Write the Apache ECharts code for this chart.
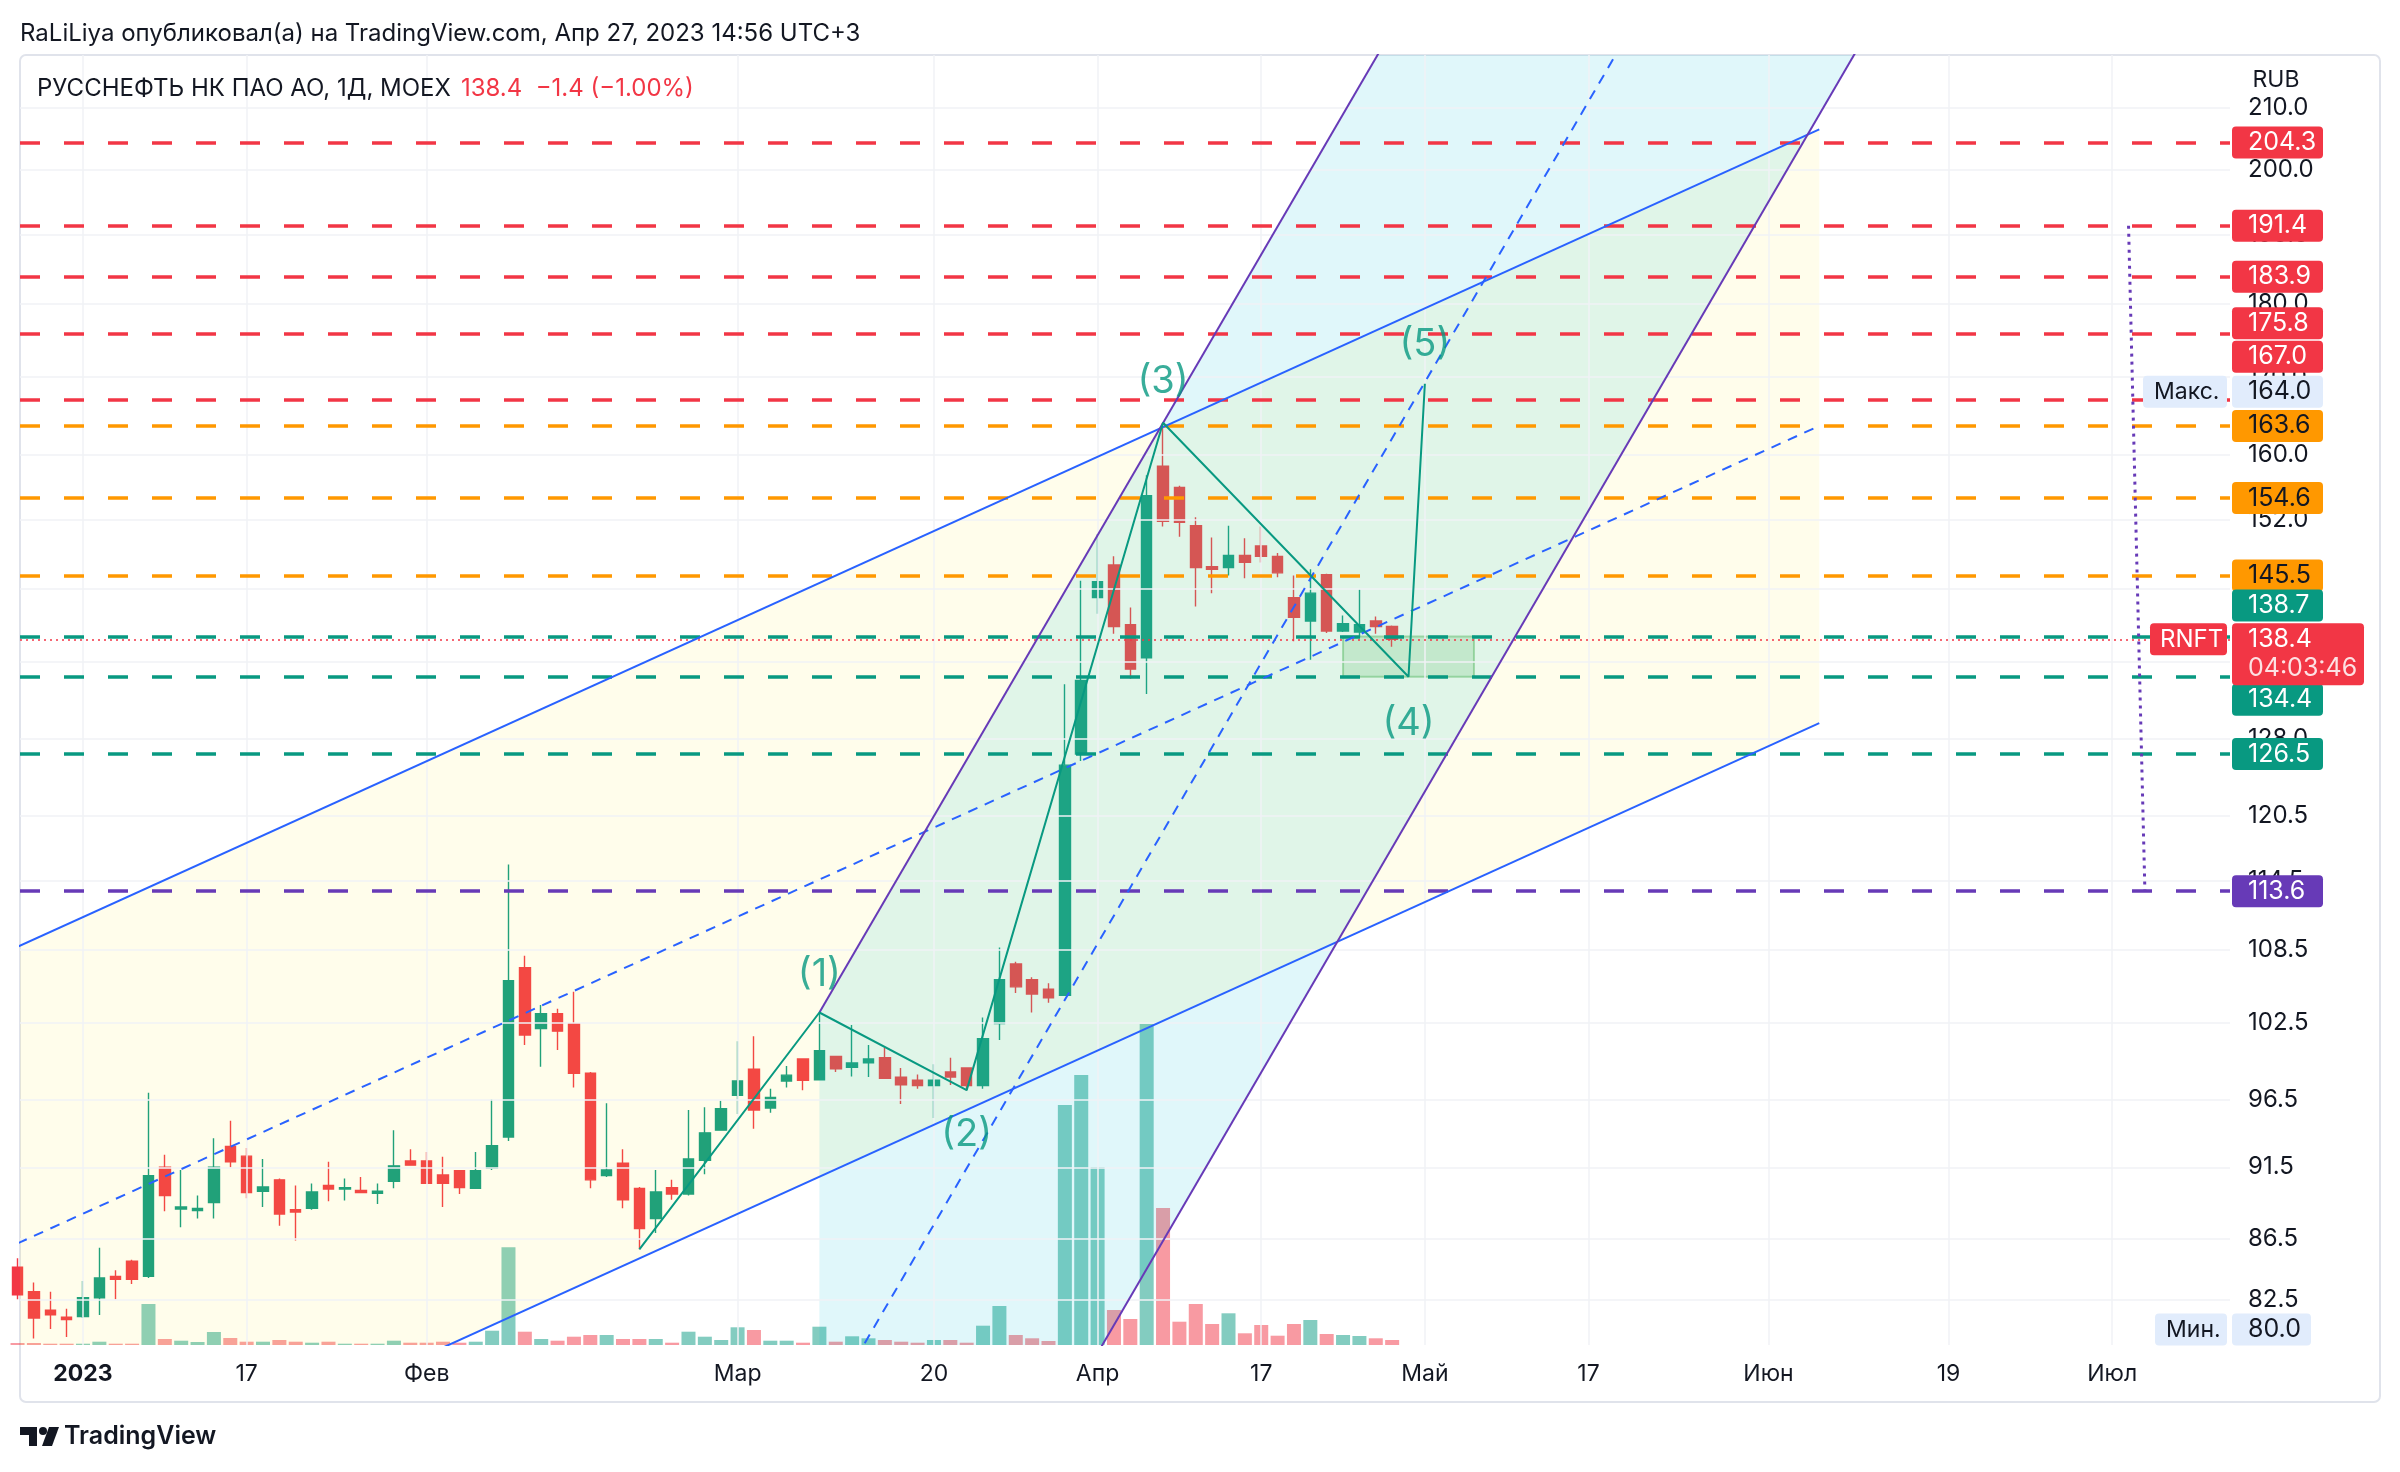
<!DOCTYPE html>
<html>
<head>
<meta charset="utf-8">
<script src="https://cdn.jsdelivr.net/npm/echarts@6/dist/echarts.min.js"></script>
<style>
  html, body { margin: 0; padding: 0; background: #fff; }
  #chart { width: 2400px; height: 1472px; }
</style>
</head>
<body>
<div id="chart"></div>
<script>
// RNFT daily, Dec 27 2022 .. Apr 27 2023 (index 0 = Jan 3)
const dates = ['27.12','28.12','29.12','30.12',
  '03.01','04.01','05.01','06.01','09.01','10.01','11.01','12.01','13.01','16.01','17.01','18.01','19.01','20.01','23.01','24.01','25.01','26.01','27.01','30.01','31.01',
  '01.02','02.02','03.02','06.02','07.02','08.02','09.02','10.02','13.02','14.02','15.02','16.02','17.02','20.02','21.02','22.02','24.02','27.02','28.02',
  '01.03','02.03','03.03','06.03','07.03','09.03','10.03','13.03','14.03','15.03','16.03','17.03','20.03','21.03','22.03','23.03','24.03','27.03','28.03','29.03','30.03','31.03',
  '03.04','04.04','05.04','06.04','07.04','10.04','11.04','12.04','13.04','14.04','17.04','18.04','19.04','20.04','21.04','24.04','25.04','26.04','27.04'];
const FIRST_INDEX = -4;

const opens = [84.6, 83.0, 81.8, 81.35,
  81.4, 82.6, 84.0, 85.0, 84.0, 91.5, 88.55, 88.45, 89.0, 93.0, 92.3, 89.8, 90.6, 88.5, 88.6, 90.2, 89.95, 89.85, 89.65, 90.5, 91.95,
  91.95, 90.95, 91.25, 90.0, 91.45, 93.7, 107.0, 102.0, 103.2, 102.4, 98.5, 90.9, 91.8, 90.0, 87.9, 90.05, 89.6, 92.0, 94.2,
  96.8, 98.8, 95.85, 97.9, 99.6, 98.0, 99.8, 98.96, 99.3, 99.7, 98.2, 97.97, 97.55, 98.6, 98.9, 97.55, 102.4, 107.3, 106.0, 105.2, 104.7, 126.5,
  143.0, 146.7, 140.0, 136.4, 158.5, 155.9, 151.3, 146.5, 146.4, 147.8, 148.9, 147.7, 143.0, 140.4, 145.6, 139.3, 139.2, 140.4, 139.8];
const closes = [82.8, 81.3, 81.5, 81.2,
  82.6, 83.9, 83.8, 83.8, 90.9, 89.5, 88.7, 88.6, 91.5, 91.9, 89.7, 90.1, 88.2, 88.35, 89.75, 89.95, 90.05, 89.7, 89.8, 91.6, 91.65,
  90.35, 90.35, 90.05, 91.25, 93.05, 105.9, 101.5, 103.2, 101.8, 98.5, 90.6, 91.3, 89.2, 87.2, 89.75, 89.6, 92.1, 94.0, 95.8,
  97.9, 95.7, 96.65, 98.35, 97.95, 100.25, 98.85, 99.3, 99.6, 98.1, 97.6, 97.55, 97.97, 98.2, 97.55, 101.2, 106.0, 105.4, 104.8, 104.5, 125.4, 134.0,
  144.8, 139.8, 135.2, 154.9, 151.8, 151.7, 146.4, 146.2, 147.8, 147.0, 147.7, 145.8, 140.8, 143.5, 139.3, 140.1, 140.0, 139.8, 138.4];
const lows = [82.5, 80.0, 80.6, 80.1,
  81.3, 81.5, 82.5, 83.5, 83.9, 88.4, 87.3, 87.9, 87.9, 91.5, 89.3, 88.7, 87.4, 86.4, 88.5, 89.1, 89.15, 89.7, 88.9, 90.0, 91.6,
  90.3, 88.7, 89.6, 90.0, 91.3, 93.4, 100.7, 99.0, 100.3, 97.4, 90.0, 90.8, 88.6, 85.8, 86.9, 89.2, 89.5, 91.0, 94.2,
  95.4, 94.3, 95.5, 97.4, 97.2, 97.95, 98.6, 98.25, 98.2, 98.05, 96.15, 97.3, 95.1, 97.6, 97.2, 97.3, 101.1, 104.9, 103.3, 104.1, 104.7, 125.8,
  141.2, 139.0, 134.2, 132.6, 151.2, 150.0, 142.0, 143.5, 145.5, 145.2, 147.0, 145.3, 138.2, 136.2, 139.1, 139.2, 138.6, 139.0, 137.6];
const highs = [85.2, 83.6, 83.0, 81.9,
  83.7, 85.9, 84.4, 85.1, 97.0, 92.4, 91.3, 89.5, 93.6, 94.9, 92.9, 92.1, 90.7, 90.2, 90.35, 91.9, 90.7, 90.8, 90.35, 94.2, 92.8,
  92.6, 92.25, 91.3, 92.6, 96.5, 116.0, 108.0, 103.9, 103.6, 105.0, 98.6, 96.2, 92.8, 90.1, 91.3, 90.6, 95.7, 95.9, 96.4,
  101.0, 101.4, 97.3, 99.05, 99.6, 103.3, 99.85, 102.3, 100.7, 100.5, 98.9, 98.4, 99.2, 99.7, 98.9, 102.9, 108.7, 107.5, 106.2, 105.7, 133.6, 144.9,
  150.3, 147.7, 141.9, 157.4, 164.0, 156.1, 152.3, 149.9, 151.3, 149.8, 151.2, 148.1, 145.5, 146.2, 145.7, 141.0, 143.9, 140.9, 139.9];
const volumes = [0.2, 0.2, 0.13, 0.13,
  0.13, 0.33, 0.13, 0.13, 4.1, 0.6, 0.43, 0.3, 1.3, 0.7, 0.33, 0.33, 0.5, 0.33, 0.23, 0.33, 0.13, 0.13, 0.13, 0.43, 0.23,
  0.23, 0.33, 0.23, 0.33, 1.43, 9.77, 1.33, 0.6, 0.43, 0.83, 1.0, 1.0, 0.6, 0.6, 0.6, 0.23, 1.33, 0.83, 0.5,
  1.77, 1.5, 0.43, 0.43, 0.23, 1.83, 0.33, 0.87, 0.67, 0.5, 0.33, 0.23, 0.5, 0.5, 0.23, 1.93, 3.9, 1.0, 0.67, 0.4, 24.0, 27.0,
  17.8, 3.5, 2.6, 32.1, 13.7, 2.33, 4.1, 2.1, 3.17, 1.17, 2.0, 0.93, 2.1, 2.5, 1.1, 1.0, 0.9, 0.67, 0.5];

// axis ticks
const yTicks = [82.5, 86.5, 91.5, 96.5, 102.5, 108.5, 114.5, 120.5, 128.0, 136.0, 144.0, 152.0, 160.0, 170.0, 180.0, 190.0, 200.0, 210.0];
const xLabelIdx = [0, 10, 21, 40, 52, 62, 72, 82, 92, 103, 114, 124];
const xLabelText = ['2023', '17', 'Фев', 'Мар', '20', 'Апр', '17', 'Май', '17', 'Июн', '19', 'Июл'];

// horizontal levels
const levelPrices = [204.3, 191.4, 183.9, 175.8, 167.0, 163.6, 154.6, 145.5, 138.7, 134.4, 126.5, 113.6];
const levelKinds  = ['r', 'r', 'r', 'r', 'r', 'o', 'o', 'o', 'g', 'g', 'g', 'p'];

// drawings: [bar index, price]
const chanUpper = [[-6, 107.5], [106.1, 206.4]];
const chanLower = [[-6, 67.5], [106.1, 129.6]];
const chanMid   = [[-6, 85.2], [106.1, 163.6]];
const steepLeft  = [[45, 103.3], [115, 482]];
const steepRight = [[45, 54.4], [115, 254]];
const steepMid   = [[45, 75.0], [115, 350]];
const wavePoints = [[34, 85.8], [45, 103.3], [54, 97.2], [66, 164.0], [81, 134.4], [82, 169.1]];
const waveNames  = ['(1)', '(2)', '(3)', '(4)', '(5)'];
const waveBox    = [[77, 134.4], [85, 138.7]];
const rangeLine  = [[125, 191.4], [126, 113.6]];

const UP = '#089981', DOWN = '#f23645';
const LEVEL_COLORS = { r: '#f23645', o: '#ff9800', g: '#089981', p: '#673ab7' };
const FONT = 'Inter, "Noto Sans", sans-serif';
const TEXT = '#131722';
const X_MIN = -3.85, X_MAX = 131.2, Y_MIN = 79.6, Y_MAX = 218.8;

const idx = dates.map((d, k) => k + FIRST_INDEX);

function seg(points, color, width, type, z) {
  return {
    type: 'line', xAxisIndex: 0, yAxisIndex: 0, data: points, symbol: 'none', silent: true, z: z || 6,
    lineStyle: { color: color, width: width, type: type || 'solid' }
  };
}

function fill(points, color) {
  return {
    type: 'custom', xAxisIndex: 0, yAxisIndex: 0, clip: true, silent: true, z: 4,
    data: [points[0]],
    renderItem: function (params, api) {
      return { type: 'polygon', shape: { points: points.map(p => api.coord(p)) }, style: { fill: color } };
    }
  };
}

// price tags right of the plot
function tags(list) {
  return {
    type: 'custom', xAxisIndex: 0, yAxisIndex: 0, clip: false, silent: true, z: 20,
    data: list.map(t => [X_MAX, t.price]),
    renderItem: function (params, api) {
      const t = list[params.dataIndex];
      const pt = api.coord([X_MAX, t.price]);
      const y = pt[1] + (t.shift || 0);
      const children = [];
      t.boxes.forEach(b => {
        children.push({ type: 'rect', shape: { x: pt[0] + b.x, y: y + (b.y || -16), width: b.w, height: b.h || 32, r: 4 }, style: { fill: b.bg } });
        b.lines.forEach(l => {
          children.push({ type: 'text', x: pt[0] + b.x + (b.tx || 16), y: y + (l.dy || 0),
            style: { text: l.text, fill: l.color || b.fg, fontSize: l.size || 25, fontFamily: FONT, verticalAlign: 'middle' } });
        });
      });
      return { type: 'group', children: children };
    }
  };
}

const levelTagShift = [0, 0, 0, -11, -43, 0, 0, 0, -31, 23, 0, 0];
const levelTags = levelPrices.map((v, k) => ({
  price: v, shift: levelTagShift[k],
  boxes: [{ x: 2, w: 91, bg: LEVEL_COLORS[levelKinds[k]], fg: levelKinds[k] === 'o' ? TEXT : '#ffffff', lines: [{ text: v.toFixed(1) }] }]
}));
const lastClose = closes[closes.length - 1];
const maxHigh = Math.max.apply(null, highs);
const minLow = Math.min.apply(null, lows);
const extraTags = [
  { price: maxHigh, shift: -31, boxes: [
    { x: -87, w: 84, bg: '#e1ecfc', fg: TEXT, tx: 11, lines: [{ text: 'Макс.', size: 23 }] },
    { x: 2, w: 91, bg: '#e1ecfc', fg: TEXT, lines: [{ text: maxHigh.toFixed(1) }] }] },
  { price: minLow, shift: -9, boxes: [
    { x: -75, w: 72, bg: '#e1ecfc', fg: TEXT, tx: 11, lines: [{ text: 'Мин.', size: 23 }] },
    { x: 2, w: 79, bg: '#e1ecfc', fg: TEXT, lines: [{ text: minLow.toFixed(1) }] }] },
  { price: lastClose, shift: 0, boxes: [
    { x: -80, y: -16, w: 77, h: 32, bg: DOWN, fg: '#ffffff', tx: 10, lines: [{ text: 'RNFT', size: 24 }] },
    { x: 2, y: -16, w: 132, h: 62, bg: DOWN, fg: '#ffffff', lines: [{ text: lastClose.toFixed(1) }, { text: '04:03:46', dy: 29, color: 'rgba(255,255,255,0.85)' }] }] }
];

const chart = echarts.init(document.getElementById('chart'));

const option = {
  animation: false,
  backgroundColor: '#ffffff',
  textStyle: { fontFamily: FONT },
  grid: [
    { left: 20, right: 170, top: 55, bottom: 127 },
    { left: 20, right: 170, bottom: 127, height: 340 }
  ],
  xAxis: [
    {
      type: 'value', gridIndex: 0, min: X_MIN, max: X_MAX,
      axisLine: { show: false }, axisTick: { show: false }, splitLine: { show: false },
      axisLabel: {
        customValues: xLabelIdx, color: TEXT, fontSize: 23, margin: 18, fontFamily: FONT,
        formatter: function (v) {
          const k = xLabelIdx.indexOf(Math.round(v));
          if (k < 0) return '';
          return k === 0 ? '{b|' + xLabelText[k] + '}' : xLabelText[k];
        },
        rich: { b: { fontWeight: 'bold', fontSize: 23, color: TEXT, fontFamily: FONT } }
      }
    },
    { type: 'value', gridIndex: 1, min: X_MIN, max: X_MAX, show: false }
  ],
  yAxis: [
    { type: 'log', gridIndex: 0, min: Y_MIN, max: Y_MAX, position: 'right',
      axisLine: { show: false }, axisTick: { show: false }, axisLabel: { show: false }, splitLine: { show: false } },
    { type: 'value', gridIndex: 1, min: 0, max: 34, show: false }
  ],
  graphic: [
    { type: 'rect', shape: { x: 20, y: 55, width: 2360, height: 1347, r: 6 }, style: { fill: 'none', stroke: '#e0e3eb', lineWidth: 2 }, z: -1 },
    { type: 'text', x: 20, y: 34, style: { text: 'RaLiLiya опубликовал(а) на TradingView.com, Апр 27, 2023 14:56 UTC+3', fill: TEXT, fontSize: 24, fontFamily: FONT, verticalAlign: 'middle' } },
    { type: 'text', x: 37, y: 89, z: 30, style: {
      text: '{a|РУССНЕФТЬ НК ПАО АО, 1Д, MOEX}   {b|138.4  −1.4 (−1.00%)}', verticalAlign: 'middle',
      rich: { a: { fill: TEXT, fontSize: 24, fontFamily: FONT }, b: { fill: DOWN, fontSize: 24, fontFamily: FONT } } } },
    { type: 'text', x: 2276, y: 80, style: { text: 'RUB', fill: TEXT, fontSize: 23, fontFamily: FONT, align: 'center', verticalAlign: 'middle' } },
    { type: 'polygon', shape: { points: [[20, 1427], [37, 1427], [37, 1446], [29, 1446], [29, 1435], [20, 1435]] }, style: { fill: TEXT } },
    { type: 'circle', shape: { cx: 43, cy: 1431, r: 4 }, style: { fill: TEXT } },
    { type: 'polygon', shape: { points: [[49, 1427], [59, 1427], [52, 1446], [42, 1446]] }, style: { fill: TEXT } },
    { type: 'text', x: 64, y: 1436, style: { text: 'TradingView', fill: TEXT, fontSize: 25, fontWeight: 600, fontFamily: FONT, verticalAlign: 'middle' } }
  ],
  series: [
    // grid lines
    {
      type: 'line', xAxisIndex: 0, yAxisIndex: 0, data: [], z: 0,
      markLine: {
        silent: true, symbol: 'none', label: { show: false },
        lineStyle: { color: '#f0f2f6', width: 1.5, type: 'solid' },
        data: yTicks.map(v => ({ yAxis: v })).concat(xLabelIdx.map(v => ({ xAxis: v })))
      }
    },
    // y tick labels
    {
      type: 'custom', xAxisIndex: 0, yAxisIndex: 0, clip: false, silent: true, z: 3,
      data: yTicks.map(v => [X_MAX, v]),
      renderItem: function (params, api) {
        const pt = api.coord([api.value(0), api.value(1)]);
        return { type: 'text', x: pt[0] + 18, y: pt[1],
          style: { text: api.value(1).toFixed(1), fill: TEXT, fontSize: 24, fontFamily: FONT, verticalAlign: 'middle' } };
      }
    },
    // volume
    {
      type: 'bar', xAxisIndex: 1, yAxisIndex: 1, barWidth: 14, silent: true, z: 1,
      data: idx.map((x, k) => ({ value: [x, volumes[k]],
        itemStyle: { color: closes[k] >= opens[k] ? 'rgba(8,153,129,0.5)' : 'rgba(242,54,69,0.5)' } }))
    },
    // candles
    {
      type: 'candlestick', xAxisIndex: 0, yAxisIndex: 0, barWidth: 11, silent: true, z: 2,
      encode: { x: 0, y: [1, 2, 3, 4] },
      itemStyle: { color: UP, color0: DOWN, borderColor: UP, borderColor0: DOWN, borderWidth: 1.4 },
      data: idx.map((x, k) => [x, opens[k], closes[k], lows[k], highs[k]])
    },
    // channel fills
    fill([chanUpper[0], chanUpper[1], chanLower[1], chanLower[0]], 'rgba(255,235,59,0.1)'),
    fill([steepLeft[0], steepLeft[1], steepRight[1], steepRight[0]], 'rgba(0,188,212,0.12)'),
    // channel lines
    seg(chanUpper, '#2962ff', 2),
    seg(chanLower, '#2962ff', 2),
    seg(chanMid, '#2962ff', 2, [10, 8]),
    seg(steepLeft, '#673ab7', 2),
    seg(steepRight, '#673ab7', 2),
    seg(steepMid, '#2962ff', 2, [10, 8]),
    seg(rangeLine, '#673ab7', 3, [3, 5]),
    // levels, current price, box
    {
      type: 'line', xAxisIndex: 0, yAxisIndex: 0, data: [], z: 7,
      markLine: {
        silent: true, symbol: 'none', label: { show: false },
        data: levelPrices.map((v, k) => ({ yAxis: v, lineStyle: { color: LEVEL_COLORS[levelKinds[k]], width: 3.6, type: [20, 24] } }))
          .concat([{ yAxis: lastClose, lineStyle: { color: DOWN, width: 1.5, type: [2, 4] } }])
      },
      markArea: {
        silent: true,
        itemStyle: { color: 'rgba(76,175,80,0.2)', borderColor: 'rgba(76,175,80,0.45)', borderWidth: 2 },
        data: [[{ coord: waveBox[0] }, { coord: waveBox[1] }]]
      }
    },
    // elliott wave
    seg(wavePoints, UP, 2, 'solid', 8),
    {
      type: 'scatter', xAxisIndex: 0, yAxisIndex: 0, symbolSize: 2, silent: true, z: 9,
      itemStyle: { color: 'rgba(0,0,0,0)' },
      label: { show: true, formatter: '{b}', color: UP, fontSize: 38, fontFamily: FONT },
      data: waveNames.map((n, k) => ({
        name: n, value: wavePoints[k + 1],
        label: { position: k % 2 === 0 ? 'top' : 'bottom', distance: [18, 24, 21, 27, 19][k] }
      }))
    },
    tags(levelTags),
    tags(extraTags)
  ]
};

chart.setOption(option);
</script>
</body>
</html>
